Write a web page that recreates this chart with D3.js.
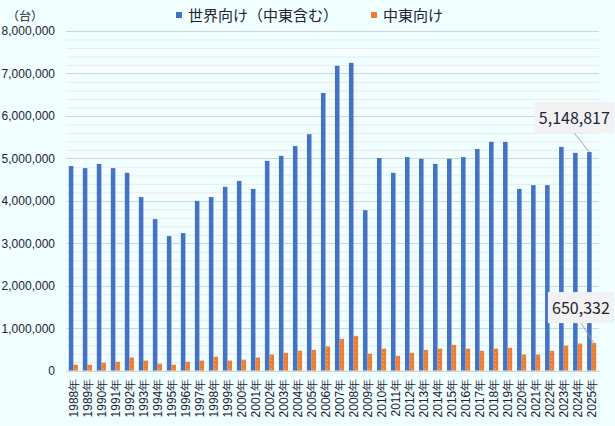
<!DOCTYPE html>
<html>
<head>
<meta charset="utf-8">
<script src="https://cdn.jsdelivr.net/npm/d3@7"></script>
<style>
    body { margin: 0; background: #f0ffff; }
    svg { display: block; }
    .tick text { font-family: "Liberation Sans", Arial, sans-serif; }
</style>
</head>
<body>
<div id="chart"></div>
<script>
// years on the x axis
var years = d3.range(1988, 2026).map(function (y) { return y + "年"; });

// 世界向け（中東含む）
var worldValues = [
    4820000, 4770000, 4870000, 4770000, 4660000, 4090000, 3570000, 3170000, 3240000, 4000000,
    4090000, 4330000, 4470000, 4280000, 4940000, 5060000, 5290000, 5570000, 6540000, 7180000,
    7250000, 3780000, 5010000, 4660000, 5030000, 4990000, 4870000, 4990000, 5030000, 5220000,
    5390000, 5390000, 4280000, 4370000, 4370000, 5270000, 5130000, 5148817
];

// 中東向け
var meValues = [
    140000, 140000, 190000, 210000, 310000, 240000, 165000, 140000, 210000, 240000,
    330000, 240000, 260000, 310000, 380000, 420000, 470000, 490000, 570000, 750000,
    820000, 400000, 520000, 350000, 420000, 490000, 520000, 610000, 520000, 470000,
    520000, 540000, 380000, 380000, 470000, 590000, 640000, 650332
];

var seriesNames = ["世界向け（中東含む）", "中東向け"];
var yTicks = d3.range(0, 8000001, 1000000);
var yMinorTicks = d3.range(0, 8000001, 200000);

var W = 615, H = 426;
var margin = {top: 31, right: 16, bottom: 55, left: 66};
var plotW = W - margin.left - margin.right;
var plotH = 370.7 - margin.top;

var blue = "#4472c4", orange = "#ed7d31";
var textColor = "#222233";

var svg = d3.select("#chart").append("svg")
    .attr("width", W)
    .attr("height", H)
    .style("background", "#f0ffff");

// dotted fill like the original orange bars
var defs = svg.append("defs");
var pat = defs.append("pattern")
    .attr("id", "dots")
    .attr("patternUnits", "userSpaceOnUse")
    .attr("width", 4).attr("height", 4);
pat.append("rect").attr("width", 4).attr("height", 4).attr("fill", orange);
pat.append("rect").attr("x", 2).attr("y", 1).attr("width", 1).attr("height", 1)
    .attr("fill", "#ffffff").attr("opacity", 0.35);

var g = svg.append("g").attr("transform", "translate(" + margin.left + "," + margin.top + ")");

var x0 = d3.scaleBand().domain(years).range([0, plotW]).paddingInner(0.35).paddingOuter(0.2);
var x1 = d3.scaleBand().domain(["world", "me"]).range([0, x0.bandwidth()]);
var y = d3.scaleLinear().domain([0, 8000000]).range([plotH, 0]);

// minor gridlines
g.append("g").selectAll("line")
    .data(yMinorTicks.filter(function (d) { return d % 1000000 !== 0; }))
    .join("line")
    .attr("x1", 0).attr("x2", plotW)
    .attr("y1", function (d) { return y(d) + 0.5; })
    .attr("y2", function (d) { return y(d) + 0.5; })
    .attr("stroke", "#f3e6ec").attr("stroke-width", 1);

// major gridlines
g.append("g").selectAll("line")
    .data(yTicks)
    .join("line")
    .attr("x1", 0).attr("x2", plotW)
    .attr("y1", function (d) { return Math.round(y(d)) + 0.5; })
    .attr("y2", function (d) { return Math.round(y(d)) + 0.5; })
    .attr("stroke", "#d4d4d4").attr("stroke-width", 1);

// y axis labels
var yAxis = d3.axisLeft(y).tickValues(yTicks).tickSize(0).tickPadding(11)
    .tickFormat(d3.format(","));
g.append("g").call(yAxis)
    .call(function (a) { a.select(".domain").remove(); })
    .selectAll("text")
    .attr("font-size", 12)
    .attr("fill", textColor);

// bars
var groups = g.append("g").selectAll("g")
    .data(years)
    .join("g")
    .attr("transform", function (d) { return "translate(" + x0(d) + ",0)"; });

groups.append("rect")
    .attr("x", x1("world"))
    .attr("width", x1.bandwidth())
    .attr("y", function (d, i) { return y(worldValues[i]); })
    .attr("height", function (d, i) { return plotH - y(worldValues[i]); })
    .attr("fill", blue);

groups.append("rect")
    .attr("x", x1("me"))
    .attr("width", x1.bandwidth())
    .attr("y", function (d, i) { return y(meValues[i]); })
    .attr("height", function (d, i) { return plotH - y(meValues[i]); })
    .attr("fill", "url(#dots)");

// x axis
var xAxis = d3.axisBottom(x0).tickSize(0).tickPadding(0);
var xg = g.append("g").attr("transform", "translate(0," + plotH + ")").call(xAxis);
xg.select(".domain").remove();
xg.append("line")
    .attr("x1", 0).attr("x2", plotW)
    .attr("y1", 0.5).attr("y2", 0.5)
    .attr("stroke", "#d4d4d4");
xg.selectAll(".tick text")
    .attr("font-size", 12)
    .attr("font-family", "'Liberation Sans', 'Noto Sans CJK JP', sans-serif")
    .attr("fill", textColor)
    .attr("transform", "rotate(-90)")
    .attr("text-anchor", "end")
    .attr("x", -8)
    .attr("y", 0)
    .attr("dx", 0)
    .attr("dy", "0.36em");

// unit label
svg.append("text")
    .attr("x", 25).attr("y", 21)
    .attr("text-anchor", "middle")
    .attr("font-size", 12)
    .attr("font-family", "'Noto Sans CJK JP', sans-serif")
    .attr("fill", textColor)
    .text("（台）");

// legend
var legendItems = [
    {name: seriesNames[0], color: blue, x: 176},
    {name: seriesNames[1], color: orange, x: 371}
];
var legend = svg.append("g").selectAll("g")
    .data(legendItems)
    .join("g")
    .attr("transform", function (d) { return "translate(" + d.x + ",0)"; });
legend.append("rect")
    .attr("y", 12).attr("width", 6).attr("height", 6)
    .attr("fill", function (d) { return d.color; });
legend.append("text")
    .attr("x", 12).attr("y", 21)
    .attr("font-size", 15)
    .attr("font-family", "'Noto Sans CJK JP', sans-serif")
    .attr("fill", textColor)
    .text(function (d) { return d.name; });

// callouts for the last year
var last = years.length - 1;
var callouts = [
    {value: worldValues[last], key: "world", dx: -15, dy: -19, w: 80},
    {value: meValues[last], key: "me", dx: -13, dy: -20, w: 66}
];
var fmt = d3.format(",");
callouts.forEach(function (c) {
    var bx = margin.left + x0(years[last]) + x1(c.key) + x1.bandwidth() / 2;
    var by = margin.top + y(c.value);
    var cx = bx + c.dx, bottom = by + c.dy;
    var box = svg.append("g");
    box.append("line")
        .attr("x1", cx).attr("y1", bottom)
        .attr("x2", bx).attr("y2", by)
        .attr("stroke", "#a6a6a6").attr("stroke-width", 1);
    box.append("rect")
        .attr("x", cx - c.w / 2).attr("y", bottom - 31)
        .attr("width", c.w).attr("height", 31)
        .attr("fill", "#f2f2f2");
    box.append("text")
        .attr("x", cx).attr("y", bottom - 9)
        .attr("text-anchor", "middle")
        .attr("font-size", 16)
        .attr("font-family", "'Noto Sans CJK JP', sans-serif")
        .attr("fill", textColor)
        .text(fmt(c.value));
});
</script>
</body>
</html>
